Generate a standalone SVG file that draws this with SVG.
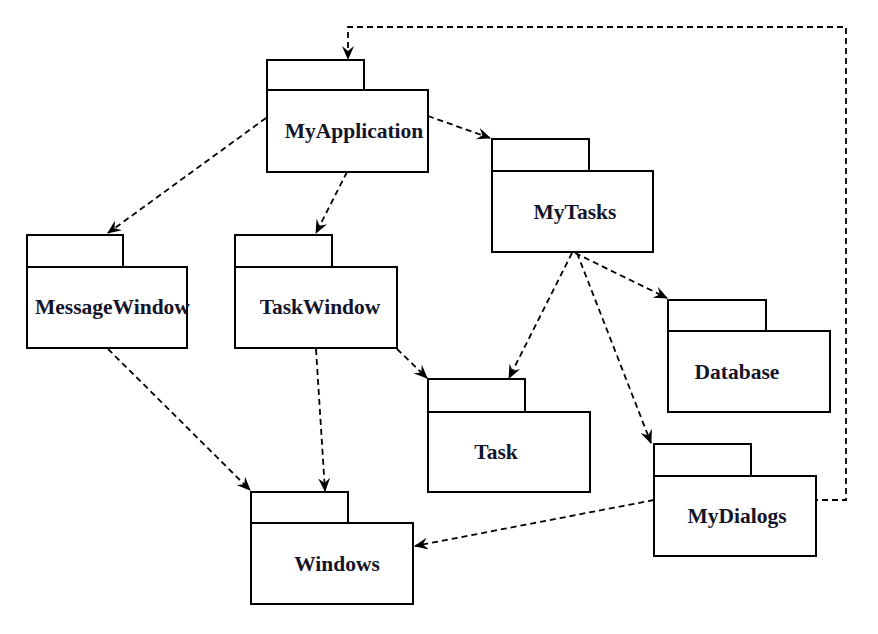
<svg xmlns="http://www.w3.org/2000/svg" width="878" height="634" viewBox="0 0 878 634">
<defs>
<marker id="ah" markerWidth="14" markerHeight="12" refX="13" refY="6" orient="auto" markerUnits="userSpaceOnUse">
<path d="M0,0 L14,6 L0,12 L5,6 z" fill="#000"/>
</marker>
<style>
.box{fill:#fff;stroke:#000;stroke-width:2}
.lbl{font-family:"Liberation Serif","Times New Roman",serif;font-weight:bold;font-size:21.5px;fill:#14142a;text-anchor:middle}
.dep{fill:none;stroke:#000;stroke-width:1.8;stroke-dasharray:6 4;marker-end:url(#ah)}
</style>
</defs>
<rect width="878" height="634" fill="#fff"/>
<g id="connectors">
<path class="dep" d="M812,500 H846 V27 H348 V59"/>
<path class="dep" d="M428,116 L490,138"/>
<path class="dep" d="M266,118 L108,233"/>
<path class="dep" d="M347,172 L316,233"/>
<path class="dep" d="M108,349 L250,490"/>
<path class="dep" d="M316,349 L325,491"/>
<path class="dep" d="M397,349 L427,378"/>
<path class="dep" d="M572,253 L509,378"/>
<path class="dep" d="M575,253 L667,298"/>
<path class="dep" d="M577,253 L651,443"/>
<path class="dep" d="M654,500 L415,546"/>
</g>
<g id="MyApplication">
<rect class="box" x="267" y="60" width="97" height="30"/>
<rect class="box" x="267" y="90" width="161" height="82"/>
<text class="lbl" x="354" y="138">MyApplication</text>
</g>
<g id="MyTasks">
<rect class="box" x="492" y="139" width="97" height="32"/>
<rect class="box" x="492" y="171" width="161" height="81"/>
<text class="lbl" x="575" y="219">MyTasks</text>
</g>
<g id="MessageWindow">
<rect class="box" x="27" y="235" width="96" height="32"/>
<rect class="box" x="27" y="267" width="160" height="81"/>
<text class="lbl" x="35" y="314" style="text-anchor:start">MessageWindow</text>
</g>
<g id="TaskWindow">
<rect class="box" x="235" y="235" width="97" height="32"/>
<rect class="box" x="235" y="267" width="162" height="81"/>
<text class="lbl" x="320" y="314">TaskWindow</text>
</g>
<g id="Database">
<rect class="box" x="668" y="300" width="98" height="31"/>
<rect class="box" x="668" y="331" width="162" height="81"/>
<text class="lbl" x="737" y="379">Database</text>
</g>
<g id="Task">
<rect class="box" x="428" y="379" width="97" height="33"/>
<rect class="box" x="428" y="412" width="162" height="80"/>
<text class="lbl" x="496" y="459">Task</text>
</g>
<g id="MyDialogs">
<rect class="box" x="654" y="444" width="97" height="32"/>
<rect class="box" x="654" y="476" width="162" height="80"/>
<text class="lbl" x="737" y="523">MyDialogs</text>
</g>
<g id="Windows">
<rect class="box" x="251" y="492" width="97" height="31"/>
<rect class="box" x="251" y="523" width="162" height="81"/>
<text class="lbl" x="337" y="571">Windows</text>
</g>
</svg>
